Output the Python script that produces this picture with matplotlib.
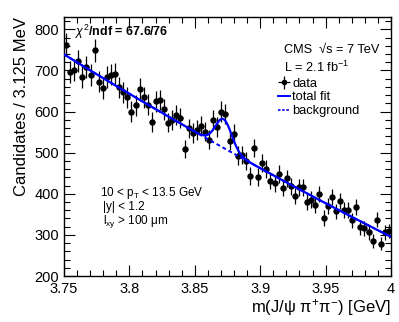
import numpy as np
import matplotlib
matplotlib.use("Agg")
import matplotlib.pyplot as plt
from matplotlib.lines import Line2D
from matplotlib.ticker import MultipleLocator

plt.rcParams['font.family'] = ['Liberation Sans', 'DejaVu Sans']
plt.rcParams['mathtext.fontset'] = 'custom'
plt.rcParams['mathtext.rm'] = 'Liberation Sans'
plt.rcParams['mathtext.it'] = 'Liberation Sans:italic'
plt.rcParams['mathtext.bf'] = 'Liberation Sans:bold'

# ---- data ----
x_lo, x_hi, n_bins = 3.75, 4.0, 80
counts = [763, 696, 702, 724, 684, 708, 689, 749, 673, 657,
          684, 690, 692, 659, 647, 635, 600, 615, 655, 635,
          617, 574, 625, 628, 605, 573, 580, 592, 585, 509,
          559, 548, 555, 566, 551, 532, 580, 563, 600, 593,
          529, 546, 493, 495, 479, 443, 511, 441, 474, 460,
          432, 426, 448, 414, 438, 418, 395, 416, 416, 379,
          386, 373, 400, 341, 371, 393, 357, 382, 360, 360,
          335, 367, 318, 316, 306, 285, 337, 279, 306, 310]

# fit parameters (quadratic background + gaussian signal)
bg_coef = [739.0, -1950.0, 700.0]   # a + b*(m-3.75) + c*(m-3.75)^2
sig_amp, sig_mean, sig_sigma = 70.0, 3.872, 0.0062

edges = np.linspace(x_lo, x_hi, n_bins + 1)
centers = 0.5 * (edges[:-1] + edges[1:])
counts = np.array(counts, dtype=float)
err = np.sqrt(counts)

m = np.linspace(x_lo, x_hi, 600)
d = m - x_lo
bg = bg_coef[0] + bg_coef[1] * d + bg_coef[2] * d ** 2
total = bg + sig_amp * np.exp(-0.5 * ((m - sig_mean) / sig_sigma) ** 2)

fig = plt.figure(figsize=(3.99, 3.22), dpi=100)
ax = fig.add_axes([64 / 399, 1 - 276 / 322, (391 - 64) / 399, (276 - 17) / 322])

ax.errorbar(centers, counts, yerr=err, xerr=0.5 * (edges[1] - edges[0]),
            fmt='o', color='black', ms=3.6, elinewidth=0.9, capsize=0, zorder=3)
ax.plot(m, bg, color='#0000ff', lw=1.4, ls=(0, (2, 1.5)), zorder=4)
ax.plot(m, total, color='#0000ff', lw=1.6, zorder=5)

ax.set_xlim(x_lo, x_hi)
ax.set_ylim(200, 830)
ax.xaxis.set_major_locator(MultipleLocator(0.05))
ax.xaxis.set_minor_locator(MultipleLocator(0.01))
ax.yaxis.set_major_locator(MultipleLocator(100))
ax.yaxis.set_minor_locator(MultipleLocator(20))
ax.set_xticks([3.75, 3.8, 3.85, 3.9, 3.95, 4.0])
ax.set_xticklabels(['3.75', '3.8', '3.85', '3.9', '3.95', '4'])
ax.tick_params(which='both', direction='in', top=True, right=True, labelsize=10.5)
ax.tick_params(which='major', length=8, width=0.8)
ax.tick_params(which='minor', length=4, width=0.8)
ax.tick_params(axis='x', pad=4)
for s in ax.spines.values():
    s.set_linewidth(1.0)

ax.set_xlabel('m(J/\u03c8 \u03c0$^{+}$\u03c0$^{-}$) [GeV]', fontsize=12, loc='right', labelpad=1)
ax.set_ylabel('Candidates / 3.125 MeV', fontsize=12, loc='top', labelpad=4)

ax.text(0.035, 0.942, r'$\chi^{2}$/ndf = 67.6/76', transform=ax.transAxes,
        fontsize=9, fontweight='bold', va='center', ha='left')
ax.text(0.672, 0.873, 'CMS  \u221as = 7 TeV', transform=ax.transAxes, fontsize=9.2, va='center')
ax.text(0.672, 0.807, r'L = 2.1 fb$^{-1}$', transform=ax.transAxes, fontsize=9.2, va='center')

ax.text(0.110, 0.322, r'10 < p$_{\mathregular{T}}$ < 13.5 GeV', transform=ax.transAxes, fontsize=8.5, va='center')
ax.text(0.120, 0.268, '|y| < 1.2', transform=ax.transAxes, fontsize=8.5, va='center')
ax.text(0.120, 0.212, 'l$_{\\mathregular{xy}}$ > 100 \u03bcm',
        transform=ax.transAxes, fontsize=8.5, va='center')

h_data = ax.errorbar([], [], yerr=[], xerr=[], fmt='o', color='black', ms=3, elinewidth=0.9)
h_fit = Line2D([], [], color='#0000ff', lw=1.4)
h_bg = Line2D([], [], color='#0000ff', lw=1.2, ls=(0, (1.5, 1)))
leg = ax.legend([h_data, h_fit, h_bg], ['data', 'total fit', 'background'],
                loc='upper left', bbox_to_anchor=(0.655, 0.765), frameon=False,
                fontsize=9.3, handlelength=0.9, handletextpad=0.2,
                labelspacing=0.12, borderpad=0, borderaxespad=0)

fig.savefig('out.png', dpi=100)
